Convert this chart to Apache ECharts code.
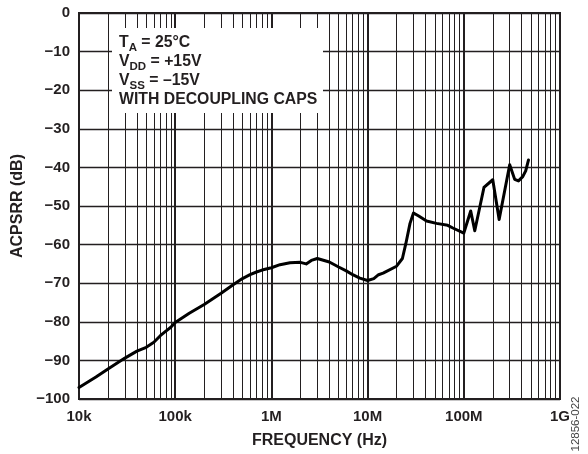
<!DOCTYPE html>
<html>
<head>
<meta charset="utf-8">
<script src="https://cdn.jsdelivr.net/npm/echarts@6/dist/echarts.min.js"></script>
<style>
  html, body { margin: 0; padding: 0; background: #fff; }
  #chart { width: 588px; height: 454px; }
</style>
</head>
<body>
<div id="chart"></div>
<script>
// frequency (Hz) and ACPSRR (dB)
const freq = [
  1e4, 1.5e4, 2e4, 3e4, 4e4, 5e4, 6e4, 7e4, 8e4, 9e4,
  1e5, 1.4e5, 2e5, 3e5, 4e5, 5e5, 6e5, 7e5, 8e5, 1e6,
  1.23e6, 1.56e6, 2e6, 2.3e6, 2.6e6, 3e6, 4e6, 5e6, 6e6, 7e6,
  8.3e6, 1e7, 1.16e7, 1.3e7, 1.45e7, 2e7, 2.3e7, 2.5e7, 2.76e7, 3e7,
  3.4e7, 4.1e7, 5.2e7, 6.8e7, 7.7e7, 1e8, 1.18e8, 1.3e8, 1.62e8, 2e8,
  2.33e8, 3e8, 3.38e8, 3.7e8, 4.1e8, 4.4e8, 4.7e8
];
const acpsrr = [
  -97.0, -94.3, -92.2, -89.4, -87.6, -86.6, -85.3, -83.6, -82.4, -81.4,
  -80.2, -77.8, -75.5, -72.6, -70.4, -68.8, -67.8, -67.1, -66.6, -66.0,
  -65.2, -64.7, -64.6, -65.0, -64.1, -63.6, -64.5, -65.8, -66.8, -67.8,
  -68.7, -69.3, -68.8, -67.8, -67.4, -65.6, -63.6, -59.7, -54.5, -51.8,
  -52.6, -53.9, -54.5, -55.0, -55.7, -57.0, -51.3, -56.4, -45.2, -43.2,
  -53.5, -39.3, -43.1, -43.5, -42.4, -40.9, -38.1
];

const xTickLabels = ['10k', '100k', '1M', '10M', '100M', '1G'];
const decades = [1e4, 1e5, 1e6, 1e7, 1e8];
const minorSteps = [2, 3, 4, 5, 6, 7, 8, 9];

const ink = '#231f20';
const font = "'Liberation Sans', Arial, sans-serif";

let minorLines = [];
decades.forEach(function (d) {
  minorSteps.forEach(function (m) {
    minorLines.push({xAxis: d * m});
  });
});

let chart = echarts.init(document.getElementById('chart'));

let option = {
  animation: false,
  grid: {
    left: 79,
    right: 28,
    top: 13,
    bottom: 55,
    show: true,
    borderColor: ink,
    borderWidth: 2
  },
  xAxis: {
    type: 'log',
    logBase: 10,
    min: 1e4,
    max: 1e9,
    name: 'FREQUENCY (Hz)',
    nameLocation: 'middle',
    nameGap: 34,
    nameTextStyle: {color: ink, fontSize: 16, fontWeight: 'bold', fontFamily: font},
    axisLine: {lineStyle: {color: ink, width: 2}},
    axisTick: {show: false},
    axisLabel: {
      color: ink,
      fontSize: 15,
      fontWeight: 'bold',
      fontFamily: font,
      margin: 10,
      formatter: function (v) {
        return xTickLabels[Math.round(Math.log10(v)) - 4];
      }
    },
    splitLine: {show: true, lineStyle: {color: ink, width: 2}}
  },
  yAxis: {
    type: 'value',
    min: -100,
    max: 0,
    interval: 10,
    name: 'ACPSRR (dB)',
    nameLocation: 'middle',
    nameGap: 52,
    nameTextStyle: {color: ink, fontSize: 16, fontWeight: 'bold', fontFamily: font},
    axisLine: {show: true, lineStyle: {color: ink, width: 2}},
    axisTick: {show: false},
    axisLabel: {
      color: ink,
      fontSize: 15,
      fontWeight: 'bold',
      fontFamily: font,
      margin: 9,
      formatter: function (v) {
        return v < 0 ? '\u2212' + (-v) : String(v);
      }
    },
    splitLine: {show: true, lineStyle: {color: ink, width: 1.3}}
  },
  series: [
    {
      type: 'line',
      data: freq.map(function (f, i) { return [f, acpsrr[i]]; }),
      showSymbol: false,
      lineStyle: {color: '#000', width: 3, join: 'round', cap: 'round'},
      markLine: {
        silent: true,
        symbol: 'none',
        label: {show: false},
        lineStyle: {color: ink, width: 1, type: 'solid'},
        data: minorLines
      },
      z: 5
    }
  ],
  graphic: [
    {
      type: 'rect',
      z: 100,
      shape: {x: 112, y: 28, width: 211, height: 85},
      style: {fill: '#fff'}
    },
    {
      type: 'text',
      z: 101,
      x: 119,
      y: 33,
      style: {
        text: '{m|T}{s|A}{m| = 25°C}\n{m|V}{s|DD}{m| = +15V}\n{m|V}{s|SS}{m| = \u201315V}\n{m|WITH DECOUPLING CAPS}',
        fill: ink,
        rich: {
          m: {fontSize: 15.8, fontWeight: 'bold', fontFamily: font, lineHeight: 19, fill: ink},
          s: {fontSize: 11.5, fontWeight: 'bold', fontFamily: font, height: 9, verticalAlign: 'bottom', fill: ink}
        }
      }
    },
    {
      type: 'text',
      z: 101,
      x: 576,
      y: 424,
      rotation: Math.PI / 2,
      style: {
        text: '12856-022',
        fontSize: 11.5,
        fontFamily: font,
        fill: '#444',
        align: 'center',
        verticalAlign: 'middle'
      }
    }
  ]
};

chart.setOption(option);
</script>
</body>
</html>
